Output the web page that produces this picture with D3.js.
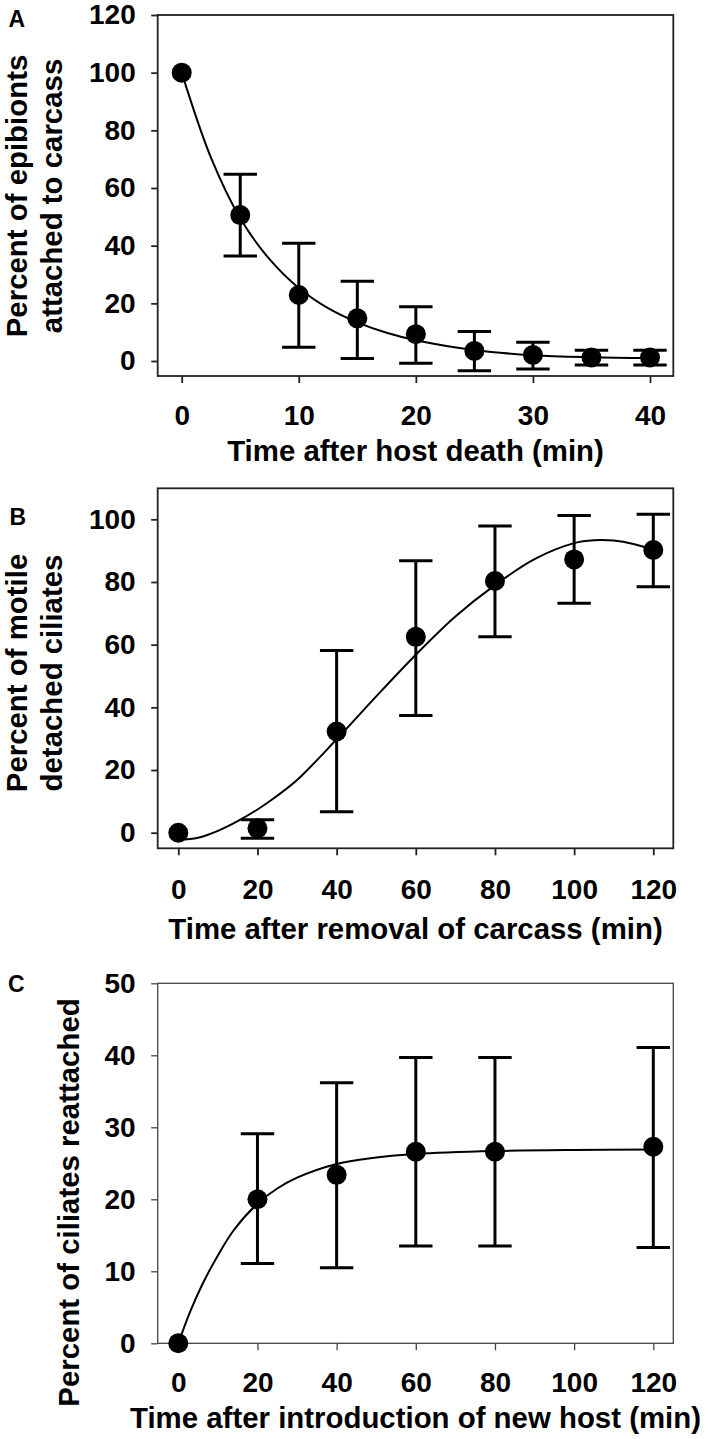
<!DOCTYPE html>
<html>
<head>
<meta charset="utf-8">
<script src="https://cdn.jsdelivr.net/npm/d3@7"></script>
<style>
  html, body { margin: 0; padding: 0; background: #fff; }
  svg { display: block; }
  text { font-family: "Liberation Sans", Arial, sans-serif; font-weight: bold; fill: #000; }
</style>
</head>
<body>
<svg id="chart" width="708" height="1439"></svg>
<script>
// ---------- Panel A ----------
const aTime = [0, 5, 10, 15, 20, 25, 30, 35, 40];
const aMean = [100, 50.6, 22.9, 14.8, 9.3, 3.5, 2.1, 1.2, 1.2];
const aUpper = [null, 64.8, 40.8, 27.7, 18.8, 10.2, 6.5, 3.7, 3.7];
const aLower = [null, 36.4, 4.8, 0.9, -0.8, -3.4, -2.8, -1.4, -1.4];
const aCurveX = [0, 2.5, 5, 7.5, 10, 12.5, 15, 17.5, 20, 25, 30, 35, 40];
const aCurveY = [100, 70.5, 49.5, 35.3, 25.3, 18.3, 13.4, 9.8, 7.2, 3.8, 2.0, 1.3, 1.0];
const aXTicks = [0, 10, 20, 30, 40];
const aYTicks = [0, 20, 40, 60, 80, 100, 120];

// ---------- Panel B ----------
const bTime = [0, 20, 40, 60, 80, 100, 120];
const bMean = [0, 1.4, 32.3, 62.5, 80.3, 87.2, 90.2];
const bUpper = [null, 4.1, 58.1, 86.8, 97.9, 101.2, 101.6];
const bLower = [null, -1.8, 6.7, 37.4, 62.5, 73.2, 78.5];
const bCurveX = [0, 5, 10, 15, 20, 25, 30, 40, 50, 60, 70, 80, 90, 100, 105, 110, 115, 120];
const bCurveY = [-2.3, -1.6, 0.6, 3.7, 7.4, 11.8, 16.8, 29.8, 43.5, 56.8, 69.0, 79.0, 87.3, 92.4, 93.3, 93.2, 92.1, 90.2];
const bXTicks = [0, 20, 40, 60, 80, 100, 120];
const bYTicks = [0, 20, 40, 60, 80, 100];

// ---------- Panel C ----------
const cTime = [0, 20, 40, 60, 80, 120];
const cMean = [0, 20.0, 23.4, 26.6, 26.6, 27.3];
const cUpper = [null, 29.1, 36.2, 39.7, 39.7, 41.1];
const cLower = [null, 11.1, 10.5, 13.5, 13.5, 13.3];
const cCurveX = [0, 3, 6, 10, 14, 20, 25, 30, 40, 50, 60, 80, 100, 120];
const cCurveY = [0, 4.4, 8.1, 12.2, 15.7, 19.4, 21.5, 23.0, 24.9, 25.8, 26.3, 26.7, 26.85, 26.9];
const cXTicks = [0, 20, 40, 60, 80, 100, 120];
const cYTicks = [0, 10, 20, 30, 40, 50];

const svg = d3.select("#chart");

function panel(cfg) {
  const g = svg.append("g");
  const x = d3.scaleLinear().domain(cfg.xDomain).range(cfg.xRange);
  const y = d3.scaleLinear().domain(cfg.yDomain).range(cfg.yRange);
  const f = cfg.frame; // [left, top, right, bottom]

  // frame
  g.append("rect")
    .attr("x", f[0]).attr("y", f[1])
    .attr("width", f[2] - f[0]).attr("height", f[3] - f[1])
    .attr("fill", "none").attr("stroke", cfg.frameColor).attr("stroke-width", cfg.frameWidth);

  // y axis
  const yAxis = g.append("g").attr("transform", `translate(${f[0]},0)`)
    .call(d3.axisLeft(y).tickValues(cfg.yTicks).tickSize(6.5).tickPadding(15.5).tickSizeOuter(0));
  yAxis.select(".domain").remove();
  yAxis.selectAll("line").attr("stroke", cfg.frameColor).attr("stroke-width", cfg.frameWidth);
  yAxis.selectAll("text").attr("font-size", 28).attr("font-family", null).attr("fill", "#000");

  // x axis
  const xAxis = g.append("g").attr("transform", `translate(0,${f[3]})`)
    .call(d3.axisBottom(x).tickValues(cfg.xTicks).tickSize(7).tickSizeOuter(0));
  xAxis.select(".domain").remove();
  xAxis.selectAll("line").attr("stroke", cfg.frameColor).attr("stroke-width", cfg.frameWidth);
  xAxis.selectAll("text").attr("font-size", 28).attr("font-family", null).attr("fill", "#000")
    .attr("dy", null).attr("y", cfg.xLabelBase);

  // fitted curve
  const line = d3.line().x(d => x(d[0])).y(d => y(d[1])).curve(d3.curveCatmullRom.alpha(0.5));
  g.append("path")
    .datum(cfg.curveX.map((v, i) => [v, cfg.curveY[i]]))
    .attr("d", line).attr("fill", "none").attr("stroke", "#000").attr("stroke-width", 2);

  // error bars
  const data = cfg.t.map((t, i) => ({ t, m: cfg.mean[i], u: cfg.upper[i], l: cfg.lower[i] }))
    .filter(d => d.u !== null);
  const cap = 16.7;
  const eb = g.append("g").attr("stroke", "#000").attr("stroke-width", 3);
  eb.selectAll(".v").data(data).join("line")
    .attr("x1", d => x(d.t)).attr("x2", d => x(d.t))
    .attr("y1", d => y(d.u)).attr("y2", d => y(d.l));
  eb.selectAll(".top").data(data).join("line")
    .attr("x1", d => x(d.t) - cap).attr("x2", d => x(d.t) + cap)
    .attr("y1", d => y(d.u)).attr("y2", d => y(d.u));
  eb.selectAll(".bot").data(data).join("line")
    .attr("x1", d => x(d.t) - cap).attr("x2", d => x(d.t) + cap)
    .attr("y1", d => y(d.l)).attr("y2", d => y(d.l));

  // points
  g.selectAll("circle.pt").data(cfg.t.map((t, i) => [t, cfg.mean[i]])).join("circle")
    .attr("cx", d => x(d[0])).attr("cy", d => y(d[1])).attr("r", 10).attr("fill", "#000");

  // x title
  g.append("text").attr("x", (f[0] + f[2]) / 2).attr("y", cfg.xTitleBase)
    .attr("text-anchor", "middle").attr("font-size", 29.4).text(cfg.xTitle);

  // y title (one or two lines)
  cfg.yTitle.forEach((s, i) => {
    g.append("text")
      .attr("transform", `translate(${cfg.yTitleBase[i]},${cfg.yTitleCenter}) rotate(-90)`)
      .attr("text-anchor", "middle").attr("font-size", 29.4).text(s);
  });

  // panel letter
  g.append("text").attr("x", cfg.letterPos[0]).attr("y", cfg.letterPos[1])
    .attr("font-size", 23).text(cfg.letter);
}

panel({
  letter: "A", letterPos: [8.5, 26.5],
  t: aTime, mean: aMean, upper: aUpper, lower: aLower,
  curveX: aCurveX, curveY: aCurveY,
  xDomain: [0, 40], xRange: [181.7, 650], yDomain: [0, 120], yRange: [361, 15],
  frame: [157.7, 15, 673.3, 376], frameColor: "#222", frameWidth: 1.8,
  xTicks: aXTicks, yTicks: aYTicks, xLabelBase: 49,
  xTitle: "Time after host death (min)", xTitleBase: 461,
  yTitle: ["Percent of epibionts", "attached to carcass"], yTitleBase: [26.5, 62], yTitleCenter: 196
});

panel({
  letter: "B", letterPos: [9.5, 525],
  t: bTime, mean: bMean, upper: bUpper, lower: bLower,
  curveX: bCurveX, curveY: bCurveY,
  xDomain: [0, 120], xRange: [178.3, 653.3], yDomain: [0, 100], yRange: [832.7, 519.3],
  frame: [157.7, 488.3, 673.3, 848.3], frameColor: "#222", frameWidth: 1.8,
  xTicks: bXTicks, yTicks: bYTicks, xLabelBase: 50.5,
  xTitle: "Time after removal of carcass (min)", xTitleBase: 939,
  yTitle: ["Percent of motile", "detached ciliates"], yTitleBase: [26.5, 62], yTitleCenter: 673
});

panel({
  letter: "C", letterPos: [8, 991.5],
  t: cTime, mean: cMean, upper: cUpper, lower: cLower,
  curveX: cCurveX, curveY: cCurveY,
  xDomain: [0, 120], xRange: [178.3, 653.3], yDomain: [0, 50], yRange: [1343.3, 983.3],
  frame: [157.7, 983.3, 673.3, 1343.3], frameColor: "#444", frameWidth: 1.3,
  xTicks: cXTicks, yTicks: cYTicks, xLabelBase: 48.5,
  xTitle: "Time after introduction of new host (min)", xTitleBase: 1428,
  yTitle: ["Percent of ciliates reattached"], yTitleBase: [79], yTitleCenter: 1202.5
});
</script>
</body>
</html>
